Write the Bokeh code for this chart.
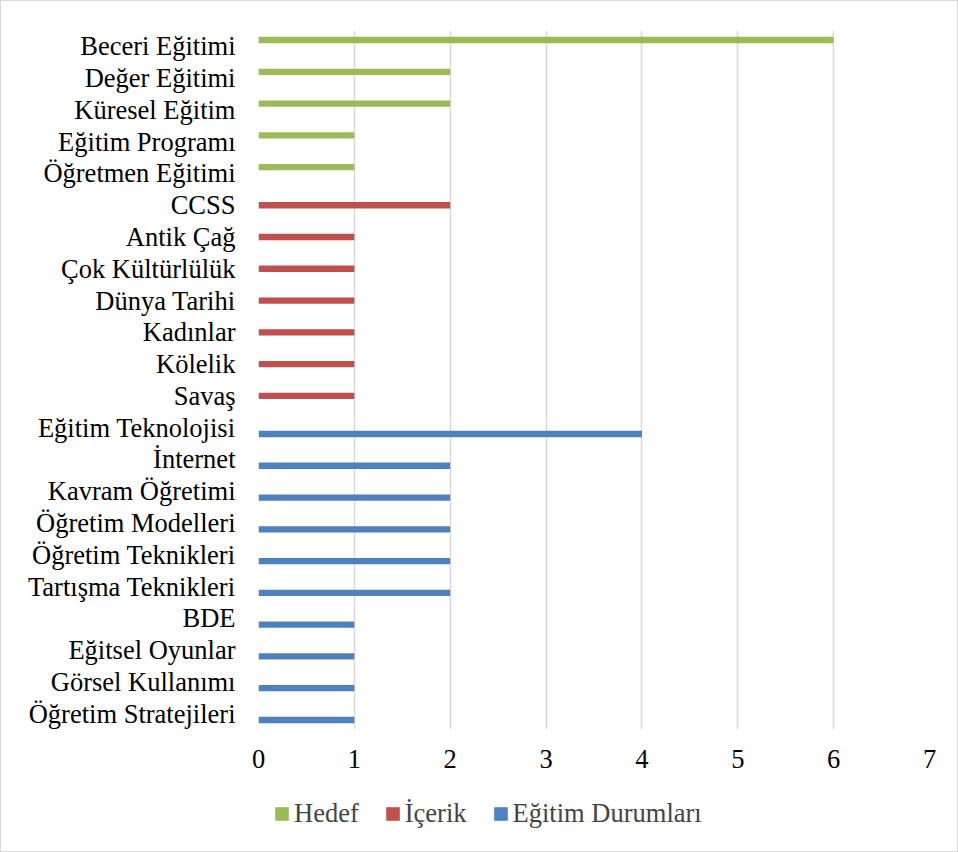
from bokeh.plotting import figure
from bokeh.models import FactorRange, Legend, LegendItem, FixedTicker
from bokeh.layouts import column
from bokeh.transform import dodge
from bokeh.embed import file_html
from bokeh.resources import INLINE

# Data (top to bottom as shown)
hedef_cats = ["Beceri Eğitimi", "Değer Eğitimi", "Küresel Eğitim", "Eğitim Programı", "Öğretmen Eğitimi"]
hedef_vals = [6, 2, 2, 1, 1]
icerik_cats = ["CCSS", "Antik Çağ", "Çok Kültürlülük", "Dünya Tarihi", "Kadınlar", "Kölelik", "Savaş"]
icerik_vals = [2, 1, 1, 1, 1, 1, 1]
durum_cats = ["Eğitim Teknolojisi", "İnternet", "Kavram Öğretimi", "Öğretim Modelleri", "Öğretim Teknikleri",
              "Tartışma Teknikleri", "BDE", "Eğitsel Oyunlar", "Görsel Kullanımı", "Öğretim Stratejileri"]
durum_vals = [4, 2, 2, 2, 2, 2, 1, 1, 1, 1]
series_names = ["Hedef", "İçerik", "Eğitim Durumları"]
colors = ["#9bbb59", "#c0504d", "#4f81bd"]
x_ticks = [0, 1, 2, 3, 4, 5, 6, 7]

all_cats = hedef_cats + icerik_cats + durum_cats
FONT = "Liberation Serif"
FS = "26.5px"

W, H1, H2 = 956, 788, 62
p = figure(width=W, height=H1, output_backend="svg", toolbar_location=None,
           y_range=FactorRange(*list(reversed(all_cats)), range_padding=0),
           x_range=(0, 7),
           min_border_left=257, min_border_right=W - 257 - 671,
           min_border_top=29, min_border_bottom=H1 - 29 - 699)

series = [(hedef_cats, hedef_vals, 0.2, colors[0]),
          (icerik_cats, icerik_vals, 0.0, colors[1]),
          (durum_cats, durum_vals, -0.2, colors[2])]
for cats, vals, off, col in series:
    p.hbar(y=dodge("cat", off, range=p.y_range), right="val", left=0, height=0.2,
           source={"cat": cats, "val": vals}, color=col, line_color=None)

p.outline_line_color = None
p.background_fill_color = "white"
p.border_fill_color = "white"

p.ygrid.grid_line_color = None
p.xgrid.grid_line_color = "#d9d9d9"
p.xgrid.grid_line_width = 1.5
p.xaxis.ticker = FixedTicker(ticks=x_ticks)

for ax in (p.xaxis[0], p.yaxis[0]):
    ax.axis_line_color = None
    ax.major_tick_line_color = None
    ax.minor_tick_line_color = None
    ax.major_label_text_font = FONT
    ax.major_label_text_font_size = FS
    ax.major_label_text_color = "black"
p.yaxis.major_label_standoff = 17
p.xaxis.major_label_standoff = 14

# Legend in a separate strip below the chart (its frame is aligned with the chart's frame)
lg = figure(width=W, height=H2, output_backend="svg", toolbar_location=None,
            x_range=(0, 1), y_range=(0, 1), x_axis_location=None, y_axis_location=None,
            min_border=0)
lg.outline_line_color = None
lg.grid.visible = False
lg.border_fill_color = "white"
leg_renderers = []
for (cats, vals, off, col) in series:
    leg_renderers.append(lg.quad(left=[-6], right=[-5], bottom=[-6], top=[-5], color=col, line_color=None))

legend = Legend(items=[LegendItem(label=n, renderers=[r]) for n, r in zip(series_names, leg_renderers)],
                orientation="horizontal", location=(15, 22),
                label_text_font=FONT, label_text_font_size=FS,
                glyph_width=17, glyph_height=17, label_standoff=4, spacing=25,
                border_line_color=None, background_fill_alpha=0, padding=0, margin=0)
lg.add_layout(legend)

layout = column(p, lg, spacing=0)
layout.styles = {"border": "1px solid #d9d9d9"}

open("out.html", "w").write(file_html(layout, INLINE))
